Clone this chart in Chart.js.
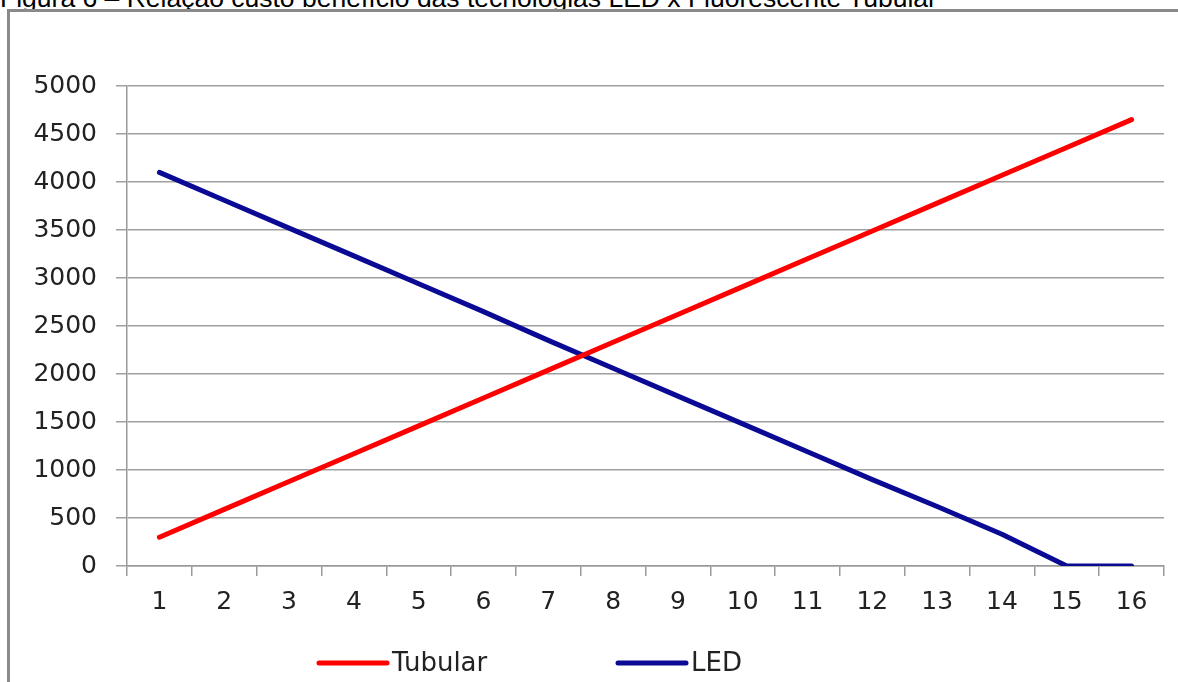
<!DOCTYPE html>
<html>
<head>
<meta charset="utf-8">
<script src="https://cdn.jsdelivr.net/npm/chart.js@4.4.1/dist/chart.umd.min.js"></script>
<style>
  html, body { margin: 0; padding: 0; background: #fff; width: 1178px; height: 682px; overflow: hidden; }
  #title { position: absolute; left: 0; top: -15px; font-family: "Liberation Sans", Arial, sans-serif; font-size: 26.5px; line-height: 1; color: #000; white-space: nowrap; }
  #frame { position: absolute; left: 7px; top: 9px; width: 1300px; height: 800px; border-left: 3px solid #8a8a8a; border-top: 3px solid #8a8a8a; }
  #wrap { position: absolute; left: 0; top: 0; width: 1178px; height: 682px; }
</style>
</head>
<body>
<div id="title">Figura 6 – Relação custo benefício das tecnologias LED x Fluorescente Tubular</div>
<div id="frame"></div>
<div id="wrap"><canvas id="c" width="1178" height="682"></canvas></div>
<script>
const categories = ["1","2","3","4","5","6","7","8","9","10","11","12","13","14","15","16"];
const tubularValues = [300, 590, 880, 1170, 1460, 1750, 2040, 2330, 2620, 2910, 3200, 3490, 3780, 4070, 4360, 4650];
const ledValues = [4100, 3810, 3520, 3230, 2940, 2650, 2350, 2060, 1770, 1480, 1190, 900, 620, 330, 0, 0];
const seriesNames = ["Tubular", "LED"];
const yTickMin = 0, yTickMax = 5000, yTickStep = 500;

const FONT = "'DejaVu Sans', sans-serif";

const customLegend = {
  id: 'customLegend',
  afterDraw(chart, args, opts) {
    const ctx = chart.ctx;
    ctx.save();
    chart.data.datasets.forEach((ds, i) => {
      const x = opts.xs[i];
      const y = opts.y;
      ctx.strokeStyle = ds.borderColor;
      ctx.lineWidth = 5;
      ctx.lineCap = 'round';
      ctx.beginPath();
      ctx.moveTo(x, y);
      ctx.lineTo(x + opts.lineLen, y);
      ctx.stroke();
      ctx.fillStyle = '#222';
      ctx.font = opts.font;
      ctx.textBaseline = 'middle';
      ctx.textAlign = 'left';
      ctx.fillText(ds.label, x + opts.lineLen + 5, y + 1);
    });
    ctx.restore();
  }
};

new Chart(document.getElementById('c'), {
  type: 'line',
  data: {
    labels: categories,
    datasets: [
      { label: seriesNames[0], data: tubularValues, borderColor: '#ff0000', borderWidth: 5, pointRadius: 0, tension: 0, borderCapStyle: 'round', borderJoinStyle: 'round' },
      { label: seriesNames[1], data: ledValues, borderColor: '#0a0a94', borderWidth: 5, pointRadius: 0, tension: 0, borderCapStyle: 'round', borderJoinStyle: 'round' }
    ]
  },
  options: {
    responsive: false,
    animation: false,
    devicePixelRatio: 1,
    layout: { padding: { left: 0, right: 14, top: 86, bottom: 66 } },
    plugins: {
      legend: { display: false },
      tooltip: { enabled: false },
      title: { display: false },
      customLegend: { xs: [319, 618], y: 663, lineLen: 68, font: "26px " + FONT }
    },
    scales: {
      x: {
        type: 'category',
        offset: true,
        grid: { offset: true, drawOnChartArea: false, drawTicks: true, tickLength: 10, color: '#9a9a9a', lineWidth: 1.5 },
        border: { display: true, color: '#9a9a9a', width: 1.5 },
        ticks: { color: '#222', font: { family: FONT, size: 25 }, padding: 11, maxRotation: 0, autoSkip: false },
        afterFit(scale) { scale.height = 50; }
      },
      y: {
        min: yTickMin,
        max: yTickMax,
        grid: { drawOnChartArea: true, drawTicks: true, tickLength: 11, color: '#a0a0a0', lineWidth: 1.5 },
        border: { display: true, color: '#9a9a9a', width: 1.5 },
        ticks: { stepSize: yTickStep, color: '#222', font: { family: FONT, size: 25 }, padding: 19, callback: (v) => String(v) },
        afterFit(scale) { scale.width = 127; }
      }
    }
  },
  plugins: [customLegend]
});
</script>
</body>
</html>
